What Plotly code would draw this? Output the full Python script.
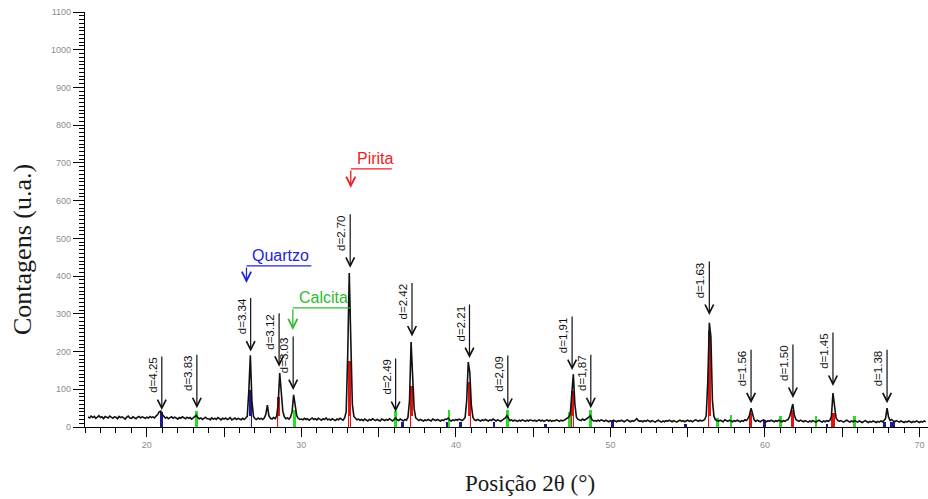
import plotly.graph_objects as go

# ---------------------------------------------------------------
# Diffractogram: counts every 0.1 deg (2-theta), one row per degree
# ---------------------------------------------------------------
scan_step = 0.1
scan_rows = [
    (16.2, [27, 24, 29, 25, 28, 23, 26, 30]),
    (17.0, [25, 27, 22, 28, 26, 24, 29, 25, 23, 27]),
    (18.0, [26, 22, 28, 25, 27, 24, 21, 26, 29, 24]),
    (19.0, [23, 27, 25, 22, 26, 28, 24, 27, 25, 23]),
    (20.0, [26, 24, 28, 25, 27, 24, 29, 33, 40, 42]),
    (21.0, [33, 27, 24, 26, 22, 25, 27, 23, 26, 24]),
    (22.0, [21, 25, 23, 27, 24, 22, 26, 23, 25, 21]),
    (23.0, [24, 28, 31, 25, 22, 24, 20, 23, 26, 22]),
    (24.0, [22, 19, 24, 21, 23, 20, 25, 22, 19, 23]),
    (25.0, [21, 24, 20, 22, 25, 19, 22, 24, 20, 23]),
    (26.0, [21, 19, 23, 20, 24, 28, 95, 190, 70, 28]),
    (27.0, [22, 20, 24, 21, 23, 20, 24, 33, 58, 30]),
    (28.0, [23, 21, 25, 22, 28, 60, 143, 100, 42, 27]),
    (29.0, [22, 24, 21, 26, 40, 85, 58, 30, 23, 20]),
    (30.0, [21, 19, 23, 20, 22, 18, 21, 24, 20, 22]),
    (31.0, [19, 23, 21, 18, 22, 20, 24, 19, 21, 18]),
    (32.0, [22, 20, 17, 21, 19, 23, 20, 18, 24, 40]),
    (33.0, [190, 408, 230, 60, 28, 22, 19, 21, 18, 20]),
    (34.0, [17, 21, 19, 16, 20, 18, 22, 19, 17, 20]),
    (35.0, [18, 16, 21, 19, 17, 20, 18, 22, 19, 16]),
    (36.0, [20, 24, 19, 17, 21, 18, 16, 20, 18, 26]),
    (37.0, [70, 225, 145, 48, 24, 19, 17, 20, 18, 16]),
    (38.0, [19, 17, 20, 18, 16, 21, 19, 17, 20, 18]),
    (39.0, [16, 19, 17, 21, 20, 24, 18, 16, 19, 17]),
    (40.0, [20, 18, 21, 19, 17, 20, 26, 70, 172, 145]),
    (41.0, [58, 26, 19, 17, 20, 18, 16, 19, 17, 20]),
    (42.0, [18, 16, 19, 17, 21, 18, 16, 19, 17, 15]),
    (43.0, [18, 20, 24, 30, 22, 17, 19, 16, 18, 17]),
    (44.0, [15, 18, 16, 19, 17, 15, 18, 16, 19, 17]),
    (45.0, [16, 18, 15, 17, 19, 16, 18, 15, 17, 19]),
    (46.0, [16, 18, 15, 17, 16, 19, 17, 15, 18, 16]),
    (47.0, [18, 20, 22, 26, 34, 90, 140, 60, 26, 20]),
    (48.0, [19, 17, 21, 18, 20, 22, 26, 30, 20, 16]),
    (49.0, [17, 15, 18, 16, 19, 17, 15, 18, 16, 14]),
    (50.0, [17, 15, 18, 16, 14, 17, 15, 18, 16, 14]),
    (51.0, [17, 19, 16, 14, 17, 15, 18, 22, 17, 15]),
    (52.0, [16, 14, 17, 15, 18, 16, 14, 17, 15, 13]),
    (53.0, [16, 18, 15, 13, 16, 14, 17, 15, 18, 16]),
    (54.0, [14, 17, 15, 13, 16, 18, 15, 17, 14, 16]),
    (55.0, [18, 15, 17, 14, 16, 19, 17, 15, 18, 16]),
    (56.0, [17, 20, 30, 120, 276, 240, 70, 28, 19, 17]),
    (57.0, [15, 18, 16, 14, 19, 17, 15, 18, 16, 14]),
    (58.0, [17, 15, 18, 16, 14, 17, 15, 19, 17, 22]),
    (59.0, [32, 50, 30, 19, 15, 18, 16, 14, 17, 19]),
    (60.0, [16, 14, 17, 15, 18, 16, 14, 17, 15, 18]),
    (61.0, [16, 14, 17, 15, 18, 20, 28, 48, 61, 32]),
    (62.0, [20, 17, 15, 18, 16, 14, 17, 15, 13, 16]),
    (63.0, [14, 17, 15, 13, 16, 18, 15, 13, 16, 14]),
    (64.0, [17, 15, 18, 28, 90, 50, 24, 18, 15, 17]),
    (65.0, [15, 13, 16, 18, 15, 13, 16, 14, 17, 15]),
    (66.0, [13, 16, 14, 12, 15, 17, 14, 12, 15, 13]),
    (67.0, [16, 14, 12, 15, 13, 16, 14, 17, 22, 50]),
    (68.0, [26, 17, 20, 16, 14, 17, 15, 13, 16, 14]),
    (69.0, [12, 15, 13, 16, 14, 12, 15, 13, 16, 14]),
    (70.0, [12, 15, 13, 16, 14]),
]

# Reference stick patterns (2-theta, relative height in counts)
quartz_pos = [20.95, 26.7, 36.54, 39.47, 40.29, 42.45, 45.79, 50.14, 54.87, 59.96, 64.03, 67.74, 68.14, 68.31]
quartz_int = [40, 98, 12, 12, 12, 12, 8, 16, 8, 18, 8, 12, 14, 12]

calcite_pos = [23.2, 29.55, 36.1, 39.55, 43.35, 47.35, 48.72, 56.95, 57.8, 61.0, 63.3, 65.8]
calcite_int = [42, 45, 42, 45, 45, 40, 45, 25, 32, 30, 28, 30]

pyrite_pos = [28.55, 33.12, 37.15, 40.87, 47.55, 56.42, 59.08, 61.8, 64.4]
pyrite_int = [80, 175, 110, 120, 95, 255, 37, 45, 37]

# Interplanar distances marked on the pattern (label, 2-theta, arrow tip in counts)
d_labels = ["d=4.25", "d=3.83", "d=3.34", "d=3.12", "d=3.03", "d=2.70", "d=2.49", "d=2.42",
            "d=2.21", "d=2,09", "d=1,91", "d=1,87", "d=1.63", "d=1.56", "d=1.50", "d=1.45", "d=1.38"]
d_angles = [20.97, 23.24, 26.72, 28.56, 29.47, 33.16, 36.1, 37.16,
            40.88, 43.36, 47.52, 48.73, 56.4, 59.1, 61.81, 64.4, 67.9]
d_tips = [45, 50, 200, 160, 98, 422, 40, 240, 183, 48, 151, 50, 297, 63, 77, 109, 63]

# Phase names with their leading reflection
phase_names = ["Quartzo", "Calcita", "Pirita"]
phase_angles = [26.45, 29.45, 33.2]

x_tick_vals = [20, 25, 30, 35, 40, 45, 50, 55, 60, 65, 70]
x_tick_text = ["20", "", "30", "", "40", "", "50", "", "60", "", "70"]
y_tick_vals = list(range(0, 1101, 100))

# ---------------------------------------------------------------
two_theta, counts = [], []
for start, row in scan_rows:
    for k, c in enumerate(row):
        two_theta.append(round(start + k * scan_step, 2))
        counts.append(c)

fig = go.Figure()

stick_sets = [
    (quartz_pos, quartz_int, "#1c1c8e", 0.16),
    (calcite_pos, calcite_int, "#25e025", 0.18),
    (pyrite_pos, pyrite_int, "#e01212", 0.2),
]
for pos, hgt, col, w in stick_sets:
    fig.add_trace(go.Bar(x=pos, y=hgt, width=w, marker=dict(color=col, line=dict(width=0)),
                         showlegend=False, hoverinfo="skip"))
    # pale core at the foot of the taller sticks
    core_x = [p for p, h in zip(pos, hgt) if h >= 60]
    core_y = [min(30, h) for h in hgt if h >= 60]
    fig.add_trace(go.Bar(x=core_x, y=core_y, width=0.05,
                         marker=dict(color="#ffe8e8", line=dict(width=0)),
                         showlegend=False, hoverinfo="skip"))

fig.add_trace(go.Scatter(x=two_theta, y=counts, mode="lines",
                         line=dict(color="#111111", width=1.6), showlegend=False))

# d-spacing arrows and rotated labels
ARROW_PX = 55
for txt, ang, tip in zip(d_labels, d_angles, d_tips):
    fig.add_annotation(x=ang, y=tip, ax=0, ay=-ARROW_PX, text="", showarrow=True,
                       arrowhead=5, arrowsize=1.4, arrowwidth=1.2, arrowcolor="#111111", standoff=0)
    fig.add_annotation(x=ang, y=tip, text=txt, textangle=-90, showarrow=False,
                       xanchor="right", yanchor="top", yshift=ARROW_PX, xshift=-1,
                       font=dict(family="Liberation Sans, Arial", size=11.5, color="#111111"))

# phase labels: underlined name with an elbow arrow pointing down
phase_style = {
    "Quartzo": dict(color="#2424d4", bar=427, tip=382, end=30.65),
    "Calcita": dict(color="#2dbb2d", bar=316, tip=257, end=33.15),
    "Pirita": dict(color="#ee1c24", bar=684, tip=634, end=35.85),
}
for name, ang in zip(phase_names, phase_angles):
    st = phase_style[name]
    fig.add_shape(type="line", x0=ang, x1=st["end"], y0=st["bar"], y1=st["bar"],
                  line=dict(color=st["color"], width=1.3))
    fig.add_annotation(x=ang, y=st["tip"], ax=ang, ay=st["bar"], axref="x", ayref="y",
                       text="", showarrow=True, arrowhead=5, arrowsize=1.4, arrowwidth=1.3,
                       arrowcolor=st["color"], standoff=0)
    fig.add_annotation(x=ang + 0.25, y=st["bar"], text=name, showarrow=False,
                       xanchor="left", yanchor="bottom", yshift=0,
                       font=dict(family="Liberation Sans, Arial", size=16, color=st["color"]))

# axis titles
fig.add_annotation(xref="paper", yref="paper", x=0, y=0.4265, xshift=-63, text="Contagens (u.a.)",
                   textangle=-90, showarrow=False, xanchor="center", yanchor="middle",
                   font=dict(family="Liberation Serif, Times New Roman", size=26, color="#1a1a1a"))
fig.add_annotation(xref="paper", yref="paper", x=0.528, y=0, yshift=-56, text="Posição 2θ (°)",
                   showarrow=False, xanchor="center", yanchor="middle",
                   font=dict(family="Liberation Serif, Times New Roman", size=23, color="#1a1a1a"))

tick_font = dict(family="Liberation Sans, Arial", size=9, color="#8c8c8c")
fig.update_layout(
    width=928, height=499,
    margin=dict(l=85, r=0, t=12, b=72),
    paper_bgcolor="white", plot_bgcolor="white",
    barmode="overlay", bargap=0,
    xaxis=dict(range=[16.0, 70.55], showline=True, linecolor="black", linewidth=1.3,
               tickmode="array", tickvals=x_tick_vals, ticktext=x_tick_text,
               ticks="outside", ticklen=9, tickwidth=1.2, tickcolor="black",
               minor=dict(dtick=1, ticks="outside", ticklen=5, tickwidth=1, tickcolor="black"),
               showgrid=False, zeroline=False, tickfont=tick_font),
    yaxis=dict(range=[0, 1100], showline=True, linecolor="black", linewidth=1.3,
               tickmode="array", tickvals=y_tick_vals,
               ticks="outside", ticklen=11, tickwidth=1.2, tickcolor="black",
               minor=dict(dtick=10, ticks="outside", ticklen=5, tickwidth=1, tickcolor="black"),
               showgrid=False, zeroline=False, tickfont=tick_font),
)

fig.write_html("out.html")
